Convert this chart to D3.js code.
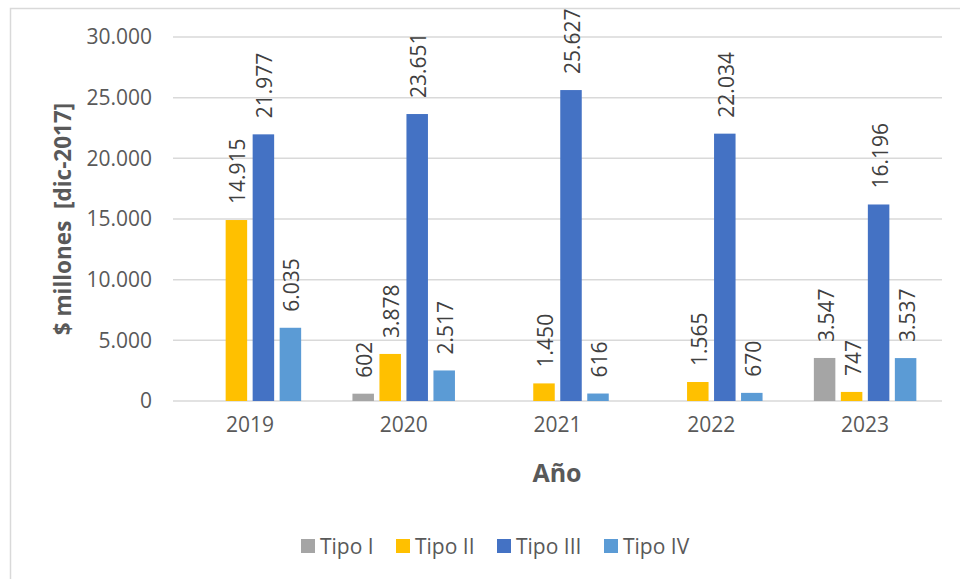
<!DOCTYPE html>
<html>
<head>
<meta charset="utf-8">
<script src="https://cdn.jsdelivr.net/npm/d3@7"></script>
<style>
  html, body { margin: 0; padding: 0; background: #fff; }
  svg { display: block; font-family: "Open Sans", sans-serif; }
</style>
</head>
<body>
<svg id="chart" width="960" height="579"></svg>
<script>
const years = ["2019", "2020", "2021", "2022", "2023"];
const seriesNames = ["Tipo I", "Tipo II", "Tipo III", "Tipo IV"];
const tipoI   = [null, 602, null, null, 3547];
const tipoII  = [14915, 3878, 1450, 1565, 747];
const tipoIII = [21977, 23651, 25627, 22034, 16196];
const tipoIV  = [6035, 2517, 616, 670, 3537];
const yTicks = [0, 5000, 10000, 15000, 20000, 25000, 30000];
const colors = ["#A5A5A5", "#FFC000", "#4472C4", "#5B9BD5"];

(function () {
const allSeries = [tipoI, tipoII, tipoIII, tipoIV];
const data = years.map((yr, i) => ({
  year: yr,
  values: seriesNames.map((s, j) => ({ series: s, idx: j, value: allSeries[j][i] }))
}));

const svg = d3.select("#chart");
const pLeft = 173, pRight = 942, pTop = 37, pBottom = 401;

const fmt = v => d3.format(",")(v).replace(/,/g, ".");

// outer border
svg.append("rect")
  .attr("x", 10.5).attr("y", 8.5)
  .attr("width", 980).attr("height", 600)
  .attr("fill", "none").attr("stroke", "#D9D9D9").attr("stroke-width", 1.5);

const y = d3.scaleLinear().domain([0, 30000]).range([pBottom, pTop]);
const x0 = d3.scaleBand().domain(years).range([pLeft, pRight]).padding(0);
const bw = x0.bandwidth();
const x1 = d3.scaleBand().domain(seriesNames)
  .range([bw / 2 - 51.25, bw / 2 + 51.25])
  .paddingInner(0.2037).paddingOuter(0);

// gridlines
svg.append("g").selectAll("line").data(yTicks).join("line")
  .attr("x1", pLeft).attr("x2", pRight)
  .attr("y1", d => y(d)).attr("y2", d => y(d))
  .attr("stroke", "#D9D9D9").attr("stroke-width", 1.5);

// y axis labels
const yAxis = d3.axisLeft(y).tickValues(yTicks).tickFormat(fmt).tickSize(0).tickPadding(21);
const gy = svg.append("g").attr("transform", `translate(${pLeft},0)`).call(yAxis);
gy.select(".domain").remove();
gy.selectAll("text").attr("fill", "#595959").style("font-size", "21px")
  .style("font-family", "'Open Sans', sans-serif");

// x axis labels
const xAxis = d3.axisBottom(x0).tickSize(0).tickPadding(16);
const gx = svg.append("g").attr("transform", `translate(0,${pBottom})`).call(xAxis);
gx.select(".domain").remove();
gx.selectAll("text").attr("fill", "#595959").style("font-size", "21px")
  .style("font-family", "'Open Sans', sans-serif");

// bars
const groups = svg.append("g").selectAll("g").data(data).join("g")
  .attr("transform", d => `translate(${x0(d.year)},0)`);

groups.selectAll("rect").data(d => d.values.filter(v => v.value != null)).join("rect")
  .attr("x", d => x1(d.series))
  .attr("width", x1.bandwidth())
  .attr("y", d => y(d.value))
  .attr("height", d => y(0) - y(d.value))
  .attr("fill", d => colors[d.idx]);

// data labels
groups.selectAll("text.lbl").data(d => d.values.filter(v => v.value != null)).join("text")
  .attr("class", "lbl")
  .attr("transform", d => `translate(${x1(d.series) + x1.bandwidth() / 2 + 1.5},${y(d.value) - 16}) rotate(-90)`)
  .attr("dy", "0.36em")
  .attr("text-anchor", "start")
  .attr("fill", "#404040")
  .style("font-size", "21px")
  .text(d => fmt(d.value));

// y title
svg.append("text")
  .attr("transform", `translate(63,${(pTop + pBottom) / 2}) rotate(-90)`)
  .attr("text-anchor", "middle").attr("dy", "0.36em")
  .attr("fill", "#595959").style("font-size", "22.5px").style("font-weight", "bold")
  .style("white-space", "pre")
  .text("$ millones  [dic-2017]");

// x title
svg.append("text")
  .attr("x", 557).attr("y", 482)
  .attr("text-anchor", "middle")
  .attr("fill", "#595959").style("font-size", "25px").style("font-weight", "bold")
  .text("Año");

// legend
const legendX = [301, 396, 497, 604];
const lg = svg.append("g").selectAll("g").data(seriesNames).join("g")
  .attr("transform", (d, i) => `translate(${legendX[i]},546)`);
lg.append("rect").attr("x", 0).attr("y", -7).attr("width", 14).attr("height", 14)
  .attr("fill", (d, i) => colors[i]);
lg.append("text").attr("x", 19).attr("dy", "0.36em")
  .attr("fill", "#595959").style("font-size", "21px")
  .text(d => d);
})();
</script>
</body>
</html>
